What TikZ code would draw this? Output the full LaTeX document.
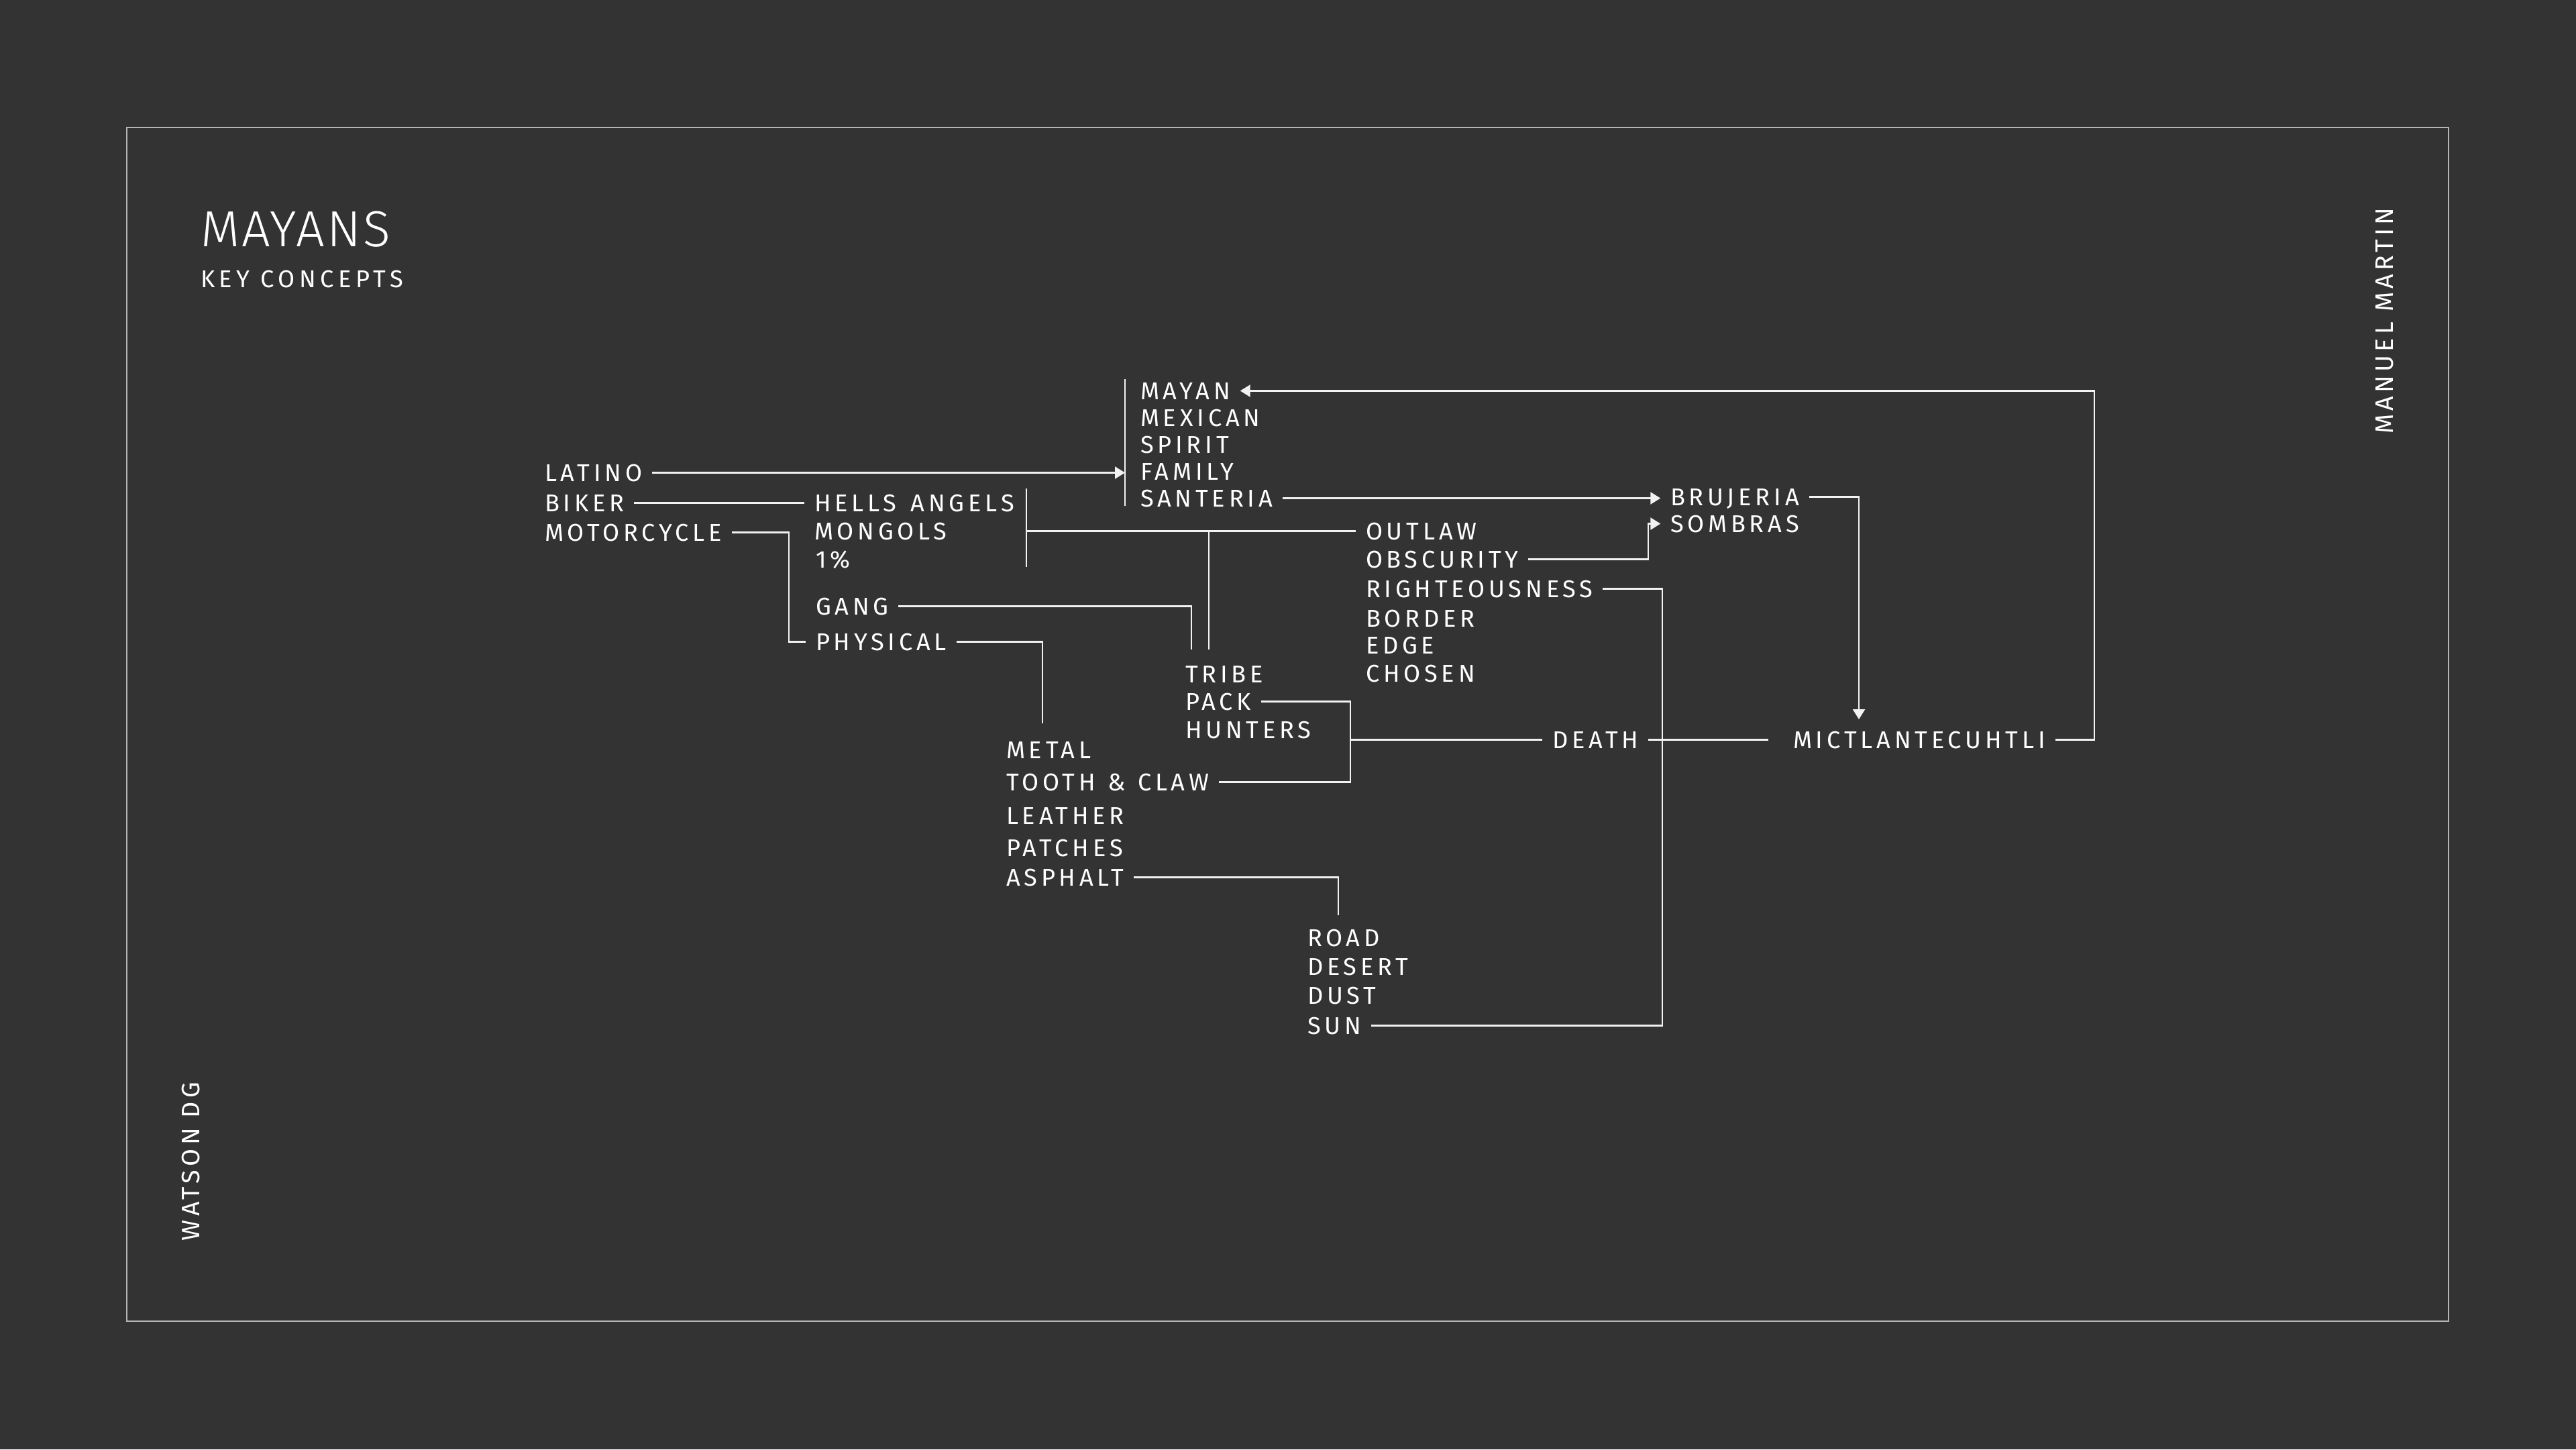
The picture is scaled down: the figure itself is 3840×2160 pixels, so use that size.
\documentclass[tikz,border=0pt]{standalone}
\usepackage{fontspec}
\setmainfont{Fira Sans}
\newfontfamily\lblfont{Fira Sans}[LetterSpace=16]
\newfontfamily\ttlfont{Fira Sans Light}[LetterSpace=4]
\newfontfamily\subfont{Fira Sans}[LetterSpace=18]
\newfontfamily\sidefont{Fira Sans}[LetterSpace=14]
\usetikzlibrary{arrows.meta}
\definecolor{bg}{HTML}{333333}
\definecolor{framec}{HTML}{B5B5B5}
\definecolor{linec}{HTML}{F2F2F2}
\begin{document}
\begin{tikzpicture}[x=0.01cm,y=-0.01cm,
  lbl/.style={text=white, font=\lblfont\fontsize{10.3pt}{12pt}\selectfont, inner xsep=0.14cm, inner ysep=0pt, text height=0.25cm, text depth=0pt, anchor=text},
  conn/.style={draw=linec, line width=0.7pt},
  arr/.style={conn, -{Triangle[length=0.15cm,width=0.18cm]}},
  side/.style={text=white, font=\sidefont\fontsize{10.7pt}{12pt}\selectfont, inner sep=0pt, rotate=90}
]
\fill[bg] (0,0) rectangle (3840,2160);
\draw[framec, line width=0.6pt] (189,190) rectangle (3650,1969);

% titles
\node[anchor=text, inner sep=0pt, text=white, font=\ttlfont\fontsize{21.5pt}{24pt}\selectfont] (title) at (299,367) {MAYANS};
\node[anchor=text, inner sep=0pt, text=white, font=\subfont\fontsize{10.3pt}{12pt}\selectfont] (sub) at (299,428) {KEY CONCEPTS};
\node[side] (author) at (3555,478) {MANUEL MARTIN};
\node[side] (studio) at (285,1731) {WATSON DG};

% labels
\node[lbl] (latino) at (812,717) {LATINO};
\node[lbl] (biker) at (812,762) {BIKER};
\node[lbl] (moto) at (812,806) {MOTORCYCLE};

\node[lbl] (mayan) at (1700,595) {MAYAN};
\node[lbl] (mexican) at (1700,635) {MEXICAN};
\node[lbl] (spirit) at (1700,675) {SPIRIT};
\node[lbl] (family) at (1700,715) {FAMILY};
\node[lbl] (santeria) at (1700,755) {SANTERIA};

\node[lbl] (hells) at (1214,762) {HELLS\hspace{0.06cm} ANGELS};
\node[lbl] (mongols) at (1214,804) {MONGOLS};
\node[lbl] (onepct) at (1216,846) {1\%};

\node[lbl] (gang) at (1216,916) {GANG};
\node[lbl] (physical) at (1216,969) {PHYSICAL};

\node[lbl] (tribe) at (1767,1017) {TRIBE};
\node[lbl] (pack) at (1767,1058) {PACK};
\node[lbl] (hunters) at (1767,1100) {HUNTERS};

\node[lbl] (metal) at (1500,1130) {METAL};
\node[lbl] (tooth) at (1500,1178) {TOOTH\hspace{0.03cm} \&\hspace{0.03cm} CLAW};
\node[lbl] (leather) at (1500,1228) {LEATHER};
\node[lbl] (patches) at (1500,1276) {PATCHES};
\node[lbl] (asphalt) at (1500,1320) {ASPHALT};

\node[lbl] (road) at (1949,1410) {ROAD};
\node[lbl] (desert) at (1949,1453) {DESERT};
\node[lbl] (dust) at (1949,1496) {DUST};
\node[lbl] (sun) at (1949,1541) {SUN};

\node[lbl] (outlaw) at (2036,804) {OUTLAW};
\node[lbl] (obsc) at (2036,846) {OBSCURITY};
\node[lbl] (right) at (2036,890) {RIGHTEOUSNESS};
\node[lbl] (border) at (2036,934) {BORDER};
\node[lbl] (edge) at (2036,974) {EDGE};
\node[lbl] (chosen) at (2036,1016) {CHOSEN};

\node[lbl] (brujeria) at (2490,753) {BRUJERIA};
\node[lbl] (sombras) at (2490,793) {SOMBRAS};

\node[lbl] (death) at (2314,1115) {DEATH};
\node[lbl] (mict) at (2673,1115) {MICTLANTECUHTLI};

% helper coordinates
\coordinate (barT) at (1677,565);
\coordinate (barB) at (1677,754);
\coordinate (rc) at (3122,0);
\coordinate (mx) at (1176,0);
\coordinate (hbT) at (1530,728);
\coordinate (hbB) at (1530,845);
\coordinate (tbx) at (1802,968);
\coordinate (tgx) at (1776,968);
\coordinate (phx) at (1554,1078);
\coordinate (brk) at (2013,0);
\coordinate (rx) at (2478,0);
\coordinate (ox) at (2457,0);
\coordinate (bx) at (2771,1072);
\coordinate (ax) at (1995,1364);

% connectors
\draw[conn] (barT) -- (barB);
\draw[arr] (latino.east) -- (latino.east -| barT);
\draw[arr] (mict.east) -| (rc |- mayan.east) -- (mayan.east);
\draw[arr] (santeria.east) -- (santeria.east -| brujeria.west);
\draw[conn] (biker.east) -- (hells.west);
\draw[conn] (moto.east) -| (mx |- physical.west) -- (physical.west);
\draw[conn] (hbT) -- (hbB);
\draw[conn] (hbT |- outlaw.west) -- (outlaw.west);
\draw[conn] (tbx |- outlaw.west) -- (tbx);
\draw[conn] (gang.east) -| (tgx);
\draw[conn] (physical.east) -| (phx);
\draw[conn] (pack.east) -| (brk |- tooth.east) -- (tooth.east);
\draw[conn] (brk |- death.west) -- (death.west);
\draw[conn] (death.east) -- ([xshift=-0.22cm]mict.west);
\draw[conn] (sun.east) -| (rx |- right.east) -- (right.east);
\draw[arr] (obsc.east) -| (ox |- sombras.west) -- (sombras.west);
\draw[arr] (brujeria.east) -| (bx);
\draw[conn] (asphalt.east) -| (ax);
\end{tikzpicture}
\end{document}
